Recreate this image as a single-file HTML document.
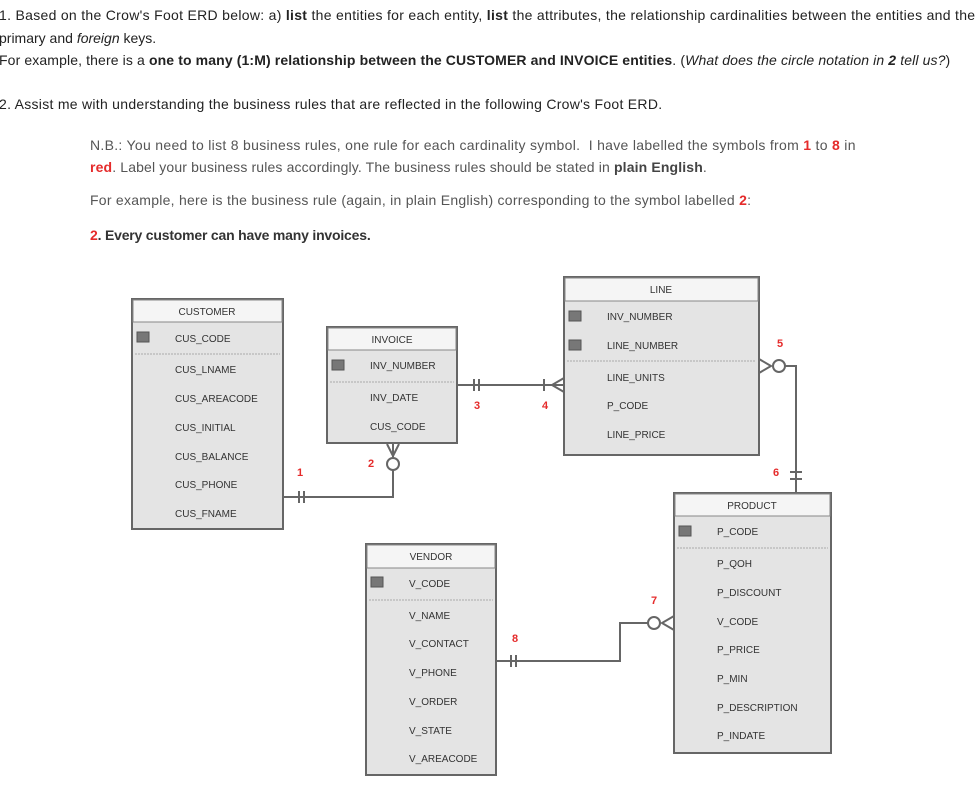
<!DOCTYPE html>
<html><head><meta charset="utf-8"><style>
body{margin:0;width:976px;height:798px;background:#fff;overflow:hidden;position:relative;font-family:"Liberation Sans",Arial,sans-serif}
.t{position:absolute;left:-1px;font-size:14px;color:#222;white-space:nowrap;line-height:16px}
.n{position:absolute;left:90px;font-size:14px;color:#555;white-space:nowrap;line-height:16px}
.r{color:#e52b2b;font-weight:bold}
b{color:#222}
svg{position:absolute;left:0;top:0}
</style></head><body>
<div class="t" style="top:7px;letter-spacing:0.3px">1. Based on the Crow's Foot ERD below: a) <b>list</b> the entities for each entity, <b>list</b> the attributes, the relationship cardinalities between the entities and the</div>
<div class="t" style="top:30px">primary and <i>foreign</i> keys.</div>
<div class="t" style="top:52px;letter-spacing:0.12px">For example, there is a <b>one to many (1:M) relationship between the CUSTOMER and INVOICE entities</b>. (<i>What does the circle notation in <b>2</b> tell us?</i>)</div>
<div class="t" style="top:96px;letter-spacing:0.28px">2. Assist me with understanding the business rules that are reflected in the following Crow's Foot ERD.</div>
<div class="n" style="top:137px;letter-spacing:0.3px">N.B.: You need to list 8 business rules, one rule for each cardinality symbol.&nbsp; I have labelled the symbols from <span class="r">1</span> to <span class="r">8</span> in</div>
<div class="n" style="top:159px;letter-spacing:0.14px"><span class="r">red</span>. Label your business rules accordingly. The business rules should be stated in <b style="color:#444">plain English</b>.</div>
<div class="n" style="top:192px;letter-spacing:0.26px">For example, here is the business rule (again, in plain English) corresponding to the symbol labelled <span class="r">2</span>:</div>
<div class="n" style="top:227px;letter-spacing:-0.2px"><span class="r">2</span><b style="color:#333">. Every customer can have many invoices.</b></div>
<svg width="976" height="798" font-family="Liberation Sans, Arial, sans-serif" font-size="10" fill="#333">
<g stroke="#666" stroke-width="2" fill="#e4e4e4">
<rect x="132" y="299" width="151" height="230"/>
<rect x="327" y="327" width="130" height="116"/>
<rect x="564" y="277" width="195" height="178"/>
<rect x="674" y="493" width="157" height="260"/>
<rect x="366" y="544" width="130" height="231"/>
</g>
<g fill="#f5f5f5" stroke="#888" stroke-width="1">
<rect x="133" y="300" width="149" height="22"/>
<rect x="328" y="328" width="128" height="22"/>
<rect x="565" y="278" width="193" height="23"/>
<rect x="675" y="494" width="155" height="22"/>
<rect x="367" y="545" width="128" height="23"/>
</g>
<g stroke="#aaa" stroke-dasharray="2,1">
<line x1="135" y1="354" x2="280" y2="354"/><line x1="330" y1="382" x2="454" y2="382"/>
<line x1="567" y1="361" x2="756" y2="361"/><line x1="677" y1="548" x2="828" y2="548"/>
<line x1="369" y1="600" x2="493" y2="600"/>
</g>
<g fill="#777" stroke="#555">
<rect x="137" y="332" width="12" height="10"/><rect x="332" y="360" width="12" height="10"/>
<rect x="569" y="311" width="12" height="10"/><rect x="569" y="340" width="12" height="10"/>
<rect x="679" y="526" width="12" height="10"/><rect x="371" y="577" width="12" height="10"/>
</g>
<g text-anchor="middle">
<text x="207" y="315">CUSTOMER</text><text x="392" y="343">INVOICE</text><text x="661" y="293">LINE</text>
<text x="752" y="509">PRODUCT</text><text x="431" y="560">VENDOR</text>
</g>
<g>
<text x="175" y="342">CUS_CODE</text><text x="175" y="373">CUS_LNAME</text><text x="175" y="402">CUS_AREACODE</text>
<text x="175" y="431">CUS_INITIAL</text><text x="175" y="460">CUS_BALANCE</text><text x="175" y="488">CUS_PHONE</text><text x="175" y="517">CUS_FNAME</text>
<text x="370" y="369">INV_NUMBER</text><text x="370" y="401">INV_DATE</text><text x="370" y="430">CUS_CODE</text>
<text x="607" y="320">INV_NUMBER</text><text x="607" y="349">LINE_NUMBER</text><text x="607" y="381">LINE_UNITS</text>
<text x="607" y="409">P_CODE</text><text x="607" y="438">LINE_PRICE</text>
<text x="717" y="535">P_CODE</text><text x="717" y="567">P_QOH</text><text x="717" y="596">P_DISCOUNT</text>
<text x="717" y="625">V_CODE</text><text x="717" y="653">P_PRICE</text><text x="717" y="682">P_MIN</text>
<text x="717" y="711">P_DESCRIPTION</text><text x="717" y="739">P_INDATE</text>
<text x="409" y="587">V_CODE</text><text x="409" y="619">V_NAME</text><text x="409" y="647">V_CONTACT</text>
<text x="409" y="676">V_PHONE</text><text x="409" y="705">V_ORDER</text><text x="409" y="734">V_STATE</text><text x="409" y="762">V_AREACODE</text>
</g>
<g stroke="#666" stroke-width="2" fill="none">
<polyline points="283,497 393,497 393,470"/>
<line x1="299" y1="491" x2="299" y2="503"/><line x1="304" y1="491" x2="304" y2="503"/>
<circle cx="393" cy="464" r="6" fill="#fff"/>
<polyline points="387,444 393,456 399,444"/><line x1="393" y1="444" x2="393" y2="457"/>
<line x1="457" y1="385" x2="564" y2="385"/>
<line x1="474" y1="379" x2="474" y2="391"/><line x1="479" y1="379" x2="479" y2="391"/>
<line x1="544" y1="379" x2="544" y2="391"/>
<polyline points="564,378 552,385 564,392"/>
<polyline points="759,359 771,366 759,373"/>
<circle cx="779" cy="366" r="6" fill="#fff"/>
<polyline points="785,366 796,366 796,493"/>
<line x1="790" y1="472" x2="802" y2="472"/><line x1="790" y1="479" x2="802" y2="479"/>
<polyline points="496,661 620,661 620,623 648,623"/>
<line x1="511" y1="655" x2="511" y2="667"/><line x1="516" y1="655" x2="516" y2="667"/>
<circle cx="654" cy="623" r="6" fill="#fff"/>
<polyline points="674,616 662,623 674,630"/>
</g>
<g fill="#e52b2b" font-weight="bold" font-size="11" text-anchor="middle">
<text x="300" y="476">1</text><text x="371" y="467">2</text><text x="477" y="409">3</text><text x="545" y="409">4</text>
<text x="780" y="347">5</text><text x="776" y="476">6</text><text x="654" y="604">7</text><text x="515" y="642">8</text>
</g>
</svg>
</body></html>
